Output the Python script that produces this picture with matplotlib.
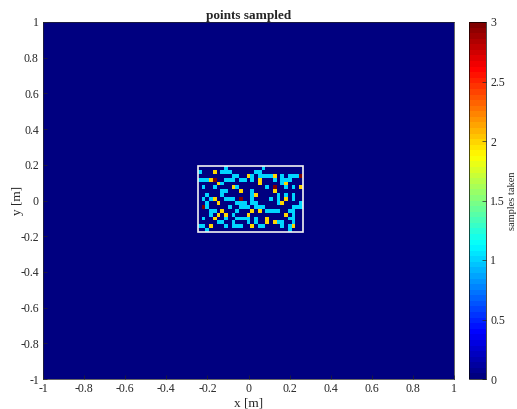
import numpy as np
import matplotlib
matplotlib.use('Agg')
import matplotlib.pyplot as plt
from matplotlib.colors import LinearSegmentedColormap
from matplotlib.patches import Rectangle

plt.rcParams['font.family'] = ['Liberation Serif', 'DejaVu Serif']

# samples per cell inside the white box, top row first (. = 0)
sample_rows = [
    '.......1.........1..........',
    '1...2.111......11...........',
    '.........11..21.11112.1.1113',
    '11123..111.11.1.2...1.111...',
    '.....21.........2.....12....',
    '.1..1....21.......1.3..1.1.2',
    '......11...2..1.....2.......',
    '..1...1.......12.....1.1.1..',
    '.1.12..111.3..1....1.1.2.1..',
    '..1..2....111.11.....12....1',
    '.31.....1..111.111.......111',
    '...11.2...1...2.2.1111..11..',
    '...1.2.2.1...2.........2.1..',
    '.1..2..1..1111.1..2.....11..',
    '.....11..1...1.1..2.211..1..',
    '11.2...1.111..2.11....1.12..',
    '..1.....................1...',
]
box_x = [-0.246, 0.265]
box_y = [-0.177, 0.193]
x_ticks = [-1, -0.8, -0.6, -0.4, -0.2, 0, 0.2, 0.4, 0.6, 0.8, 1]
y_ticks = [-1, -0.8, -0.6, -0.4, -0.2, 0, 0.2, 0.4, 0.6, 0.8, 1]
cbar_ticks = [0, 0.5, 1, 1.5, 2, 2.5, 3]

# matlab style jet
jet_colors = [(0, (0, 0, 0.5)), (0.125, (0, 0, 1)), (0.375, (0, 1, 1)),
              (0.625, (1, 1, 0)), (0.875, (1, 0, 0)), (1, (0.5, 0, 0))]
matlab_jet = LinearSegmentedColormap.from_list('matlab_jet', jet_colors, N=64)
text_col = '#262626'


def fmt(v):
    return '%g' % v


counts = np.array([[0 if c == '.' else int(c) for c in r] for r in sample_rows])
counts = counts[::-1]
grid = np.pad(counts, 1)
x_edges = np.r_[-1, np.linspace(box_x[0], box_x[1], counts.shape[1] + 1), 1]
y_edges = np.r_[-1, np.linspace(box_y[0], box_y[1], counts.shape[0] + 1), 1]

W, H = 517, 409
fig = plt.figure(figsize=(W / 100, H / 100), dpi=100)
ax = fig.add_axes([43 / W, 1 - 379 / H, 411 / W, 357 / H])
mesh = ax.pcolormesh(x_edges, y_edges, grid, cmap=matlab_jet, vmin=0, vmax=3, rasterized=True)
ax.add_patch(Rectangle((box_x[0], box_y[0]), box_x[1] - box_x[0], box_y[1] - box_y[0],
                       fill=False, edgecolor='#f0f0f0', linewidth=1.2))
ax.set_xlim(-1, 1)
ax.set_ylim(-1, 1)
ax.set_xticks(x_ticks, [fmt(v) for v in x_ticks])
ax.set_yticks(y_ticks, [fmt(v) for v in y_ticks])
ax.tick_params(direction='in', length=3, width=0.5, labelsize=8.5, pad=3, colors=text_col)
ax.set_xlabel('x [m]', fontsize=9.5, labelpad=2, color=text_col)
ax.set_ylabel('y [m]', fontsize=9.5, labelpad=-3, color=text_col)
ax.set_title('points sampled', fontsize=9.5, fontweight='bold', pad=2.5, color=text_col)
for s in ax.spines.values():
    s.set_linewidth(0.5)
    s.set_color(text_col)

cax = fig.add_axes([469 / W, 1 - 379 / H, 17 / W, 357 / H])
cb = fig.colorbar(mesh, cax=cax)
cb.set_ticks(cbar_ticks, labels=[fmt(v) for v in cbar_ticks])
cb.ax.tick_params(direction='in', length=3, width=0.5, labelsize=8.5, pad=3, colors=text_col)
cb.outline.set_linewidth(0.5)
cb.set_label('samples taken', fontsize=7.5, labelpad=2, color=text_col)

fig.savefig('out.png', dpi=100)
